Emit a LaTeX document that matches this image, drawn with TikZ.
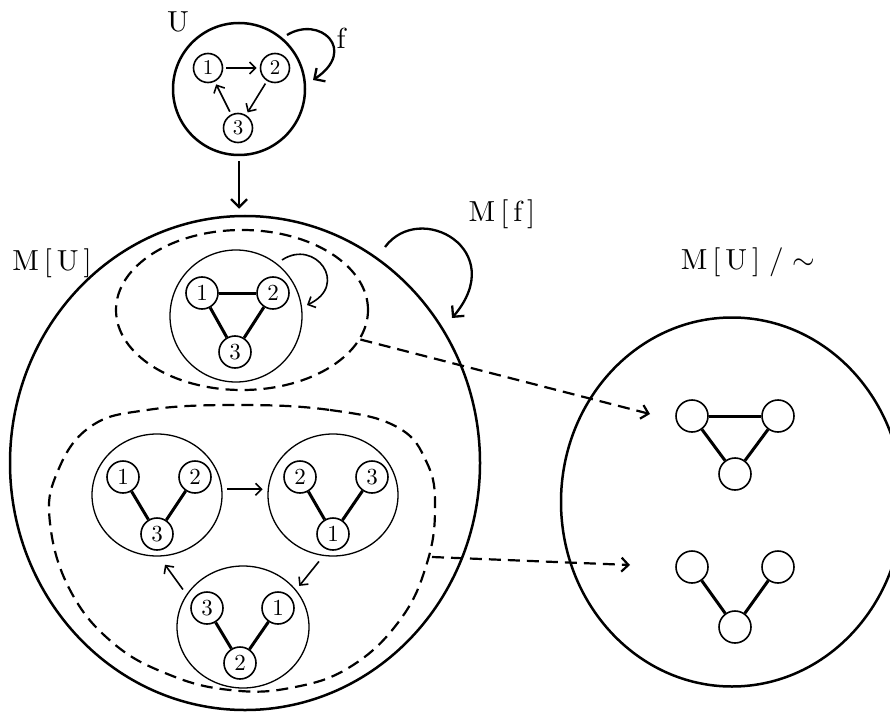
\RequirePackage{fix-cm}
\documentclass[tikz,border=0pt]{standalone}
\usepackage{fontspec}
\setmainfont{lmroman10-regular}[Extension=.otf]
\usetikzlibrary{arrows.meta,shapes.geometric}
\begin{document}
\begin{tikzpicture}[x=1pt,y=-1pt,
  bigline/.style={line width=2.5pt},
  thinline/.style={line width=1.3pt},
  vtx/.style={circle, draw, line width=1.6pt, minimum size=32pt, inner sep=0pt, font=\fontsize{23}{23}\selectfont},
  uvtx/.style={vtx, minimum size=29pt, font=\fontsize{21}{21}\selectfont},
  edgeline/.style={line width=3pt},
  dsh/.style={dash pattern=on 12pt off 7pt, line width=2.2pt},
  arr/.style={line width=1.6pt, -{Straight Barb[length=6pt,width=12pt]}},
  bigarr/.style={line width=2.3pt, -{Straight Barb[length=8pt,width=16pt]}},
  dsharr/.style={dsh, -{Straight Barb[length=7pt,width=14pt]}},
  lbl/.style={font=\fontsize{29}{29}\selectfont, inner sep=0pt}
]
\useasboundingbox (0,0) rectangle (890,711);
\clip (0,0) rectangle (890,711);

% ---------- U ----------
\node[circle, draw, bigline, minimum size=132pt, inner sep=0pt] (U) at (239,89) {};
\node[uvtx] (u1) at (208,68) {1};
\node[uvtx] (u2) at (275,68) {2};
\node[uvtx] (u3) at (238,128) {3};
\draw[arr, shorten <=3pt, shorten >=3pt] (u1) -- (u2);
\draw[arr, shorten <=3pt, shorten >=3pt] (u2) -- (u3);
\draw[arr, shorten <=3pt, shorten >=3pt] (u3) -- (u1);
\node[lbl] (Ulab) at (178,22) {U};
\coordinate (fs) at (287,35);
\coordinate (fe) at (313,80);
\draw[bigarr] (fs) .. controls (320,15) and (358,50) .. (fe);
\node[lbl] (flab) at (341,38) {f};

% ---------- M[U] ----------
\node[ellipse, draw, bigline, minimum width=470pt, minimum height=494pt, inner sep=0pt] (MU) at (245,463) {};
\draw[bigarr, shorten <=5pt, shorten >=6pt] (U.south) -- (U.south |- MU.north);
\node[lbl] (MUlab) at (52,263) {M\hspace{5pt}[\hspace{5pt}U\hspace{5pt}]};
\node[lbl] (MFlab) at (502,214) {M\hspace{5pt}[\hspace{5pt}f\hspace{5pt}]};
\coordinate (mfs) at (385,247);
\coordinate (mfe) at (452,318);
\draw[bigarr] (mfs) .. controls (420,200) and (510,250) .. (mfe);

% top class
\node[ellipse, draw, dsh, minimum width=252pt, minimum height=160pt, inner sep=0pt] (D1) at (242,310) {};
\node[circle, draw, thinline, minimum size=132pt, inner sep=0pt] (C0) at (236,316) {};
\node[vtx] (a1) at (202,293) {1};
\node[vtx] (a2) at (273,293) {2};
\node[vtx] (a3) at (235,352) {3};
\draw[edgeline] (a1) -- (a2);
\draw[edgeline] (a2) -- (a3);
\draw[edgeline] (a3) -- (a1);
\coordinate (ls) at (282,260);
\coordinate (le) at (307,305);
\draw[arr] (ls) .. controls (315,238) and (350,285) .. (le);

% lower class
\draw[dsh] plot[smooth cycle, tension=0.7] coordinates {(237,405) (330,410) (397,427) (427,463) (435,507) (427,563) (400,620) (350,667) (290,688) (230,690) (170,675) (113,643) (70,590) (50,523) (57,473) (90,427) (147,410)};

\node[ellipse, draw, thinline, minimum width=130pt, minimum height=122pt, inner sep=0pt] (A) at (157,495) {};
\node[vtx] (p1) at (123,477) {1};
\node[vtx] (p2) at (195,477) {2};
\node[vtx] (p3) at (157,534) {3};
\draw[edgeline] (p1) -- (p3);
\draw[edgeline] (p2) -- (p3);

\node[ellipse, draw, thinline, minimum width=130pt, minimum height=122pt, inner sep=0pt] (B) at (333,495) {};
\node[vtx] (q2) at (300,477) {2};
\node[vtx] (q3) at (372,477) {3};
\node[vtx] (q1) at (333,534) {1};
\draw[edgeline] (q2) -- (q1);
\draw[edgeline] (q3) -- (q1);

\node[ellipse, draw, thinline, minimum width=132pt, minimum height=122pt, inner sep=0pt] (C) at (243,627) {};
\node[vtx] (r3) at (207,608) {3};
\node[vtx] (r1) at (278,608) {1};
\node[vtx] (r2) at (240,663) {2};
\draw[edgeline] (r3) -- (r2);
\draw[edgeline] (r1) -- (r2);

\draw[arr, shorten <=5pt, shorten >=5pt] (A.5) -- (B.175);
\draw[arr, shorten <=7pt, shorten >=5pt] (B.-99) -- (C.35);
\draw[arr, shorten <=6pt, shorten >=10pt] (C.150) -- (A.-88);

% ---------- M[U]/~ ----------
\node[ellipse, draw, bigline, minimum width=342pt, minimum height=369pt, inner sep=0pt] (R) at (732,502) {};
\node[lbl] (Rlab) at (748,262) {M\hspace{5pt}[\hspace{5pt}U\hspace{5pt}]\hspace{9pt}/\hspace{9pt}$\sim$};
\node[vtx] (t1) at (692,416) {};
\node[vtx] (t2) at (778,416) {};
\node[vtx] (t3) at (735,474) {};
\draw[edgeline] (t1) -- (t2);
\draw[edgeline] (t1) -- (t3);
\draw[edgeline] (t2) -- (t3);
\node[vtx] (v1) at (692,567) {};
\node[vtx] (v2) at (778,567) {};
\node[vtx] (v3) at (735,627) {};
\draw[edgeline] (v1) -- (v3);
\draw[edgeline] (v2) -- (v3);

% dashed maps
\coordinate (tip1) at (650,414);
\draw[dsharr] (D1.-14) -- (tip1);
\coordinate (bs) at (432,557);
\coordinate (tip2) at (630,565);
\draw[dsharr] (bs) -- (tip2);
\end{tikzpicture}
\end{document}
